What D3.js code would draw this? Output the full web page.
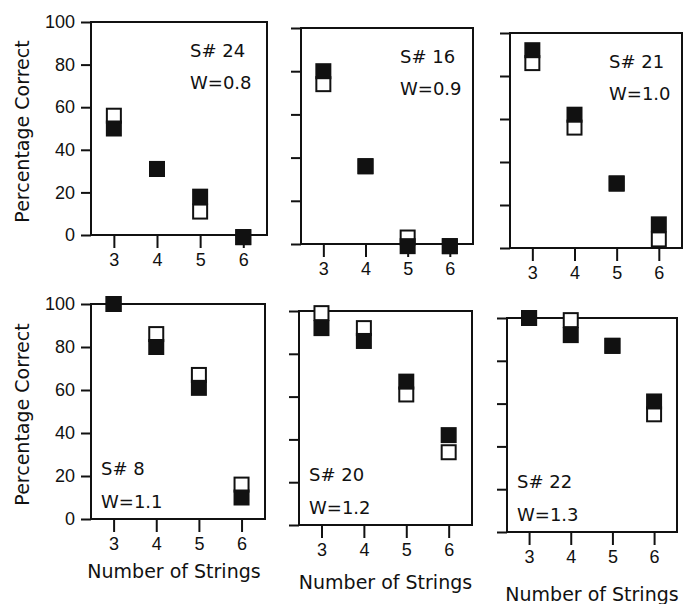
<!DOCTYPE html>
<html>
<head>
<meta charset="utf-8">
<script src="https://cdn.jsdelivr.net/npm/d3@7"></script>
<style>
  html, body { margin: 0; padding: 0; background: #fff; }
  svg { display: block; font-family: "DejaVu Sans", Arial, sans-serif; }
  .frame { fill: none; stroke: #111; stroke-width: 2; }
  .tick-line { stroke: #111; stroke-width: 2; }
  .tick-label { fill: #111; font-size: 18px; }
  .note { fill: #111; font-size: 18px; }
  .axis-title { fill: #111; font-size: 19px; }
</style>
</head>
<body>
<svg id="chart" width="683" height="604"></svg>
<script>
const strings = [3, 4, 5, 6]
const pctTicks = [0, 20, 40, 60, 80, 100]
const subjects = ['S# 24', 'S# 16', 'S# 21', 'S# 8', 'S# 20', 'S# 22']
const weights = ['W=0.8', 'W=0.9', 'W=1.0', 'W=1.1', 'W=1.2', 'W=1.3']

// filled squares and open squares, one row per subject, in order of strings
const filledPct = [
	[50, 31, 18, -1],
	[80, 36, -1, -1],
	[92, 62, 30, 11],
	[100, 80, 61, 10],
	[92, 86, 67, 42],
	[100, 92, 87, 61]
]
const openPct = [
	[56, 31, 11, -1],
	[74, 36, 3, -1],
	[86, 56, 30, 4],
	[100, 86, 67, 16],
	[99, 92, 61, 34],
	[100, 99, 87, 55]
]

// panel boxes (left, top, right, bottom) as laid out on the page
const boxes = [
	{ l: 91, t: 22, r: 267, b: 235 },
	{ l: 301, t: 28, r: 473, b: 244 },
	{ l: 510, t: 33, r: 682, b: 248 },
	{ l: 91, t: 304, r: 265, b: 519 },
	{ l: 299, t: 311, r: 472, b: 525 },
	{ l: 507, t: 318, r: 677, b: 532 }
]

const svg = d3.select('#chart')
const sq = 14

boxes.forEach((box, i) => {

	const row = i < 3 ? 0 : 1
	const col = i % 3

	const x = d3.scaleLinear()
		.domain([2.47, 6.55])
		.range([box.l, box.r])

	const y = d3.scaleLinear()
		.domain([0, 100])
		.range([box.b, box.t])

	const g = svg.append('g').attr('class', 'panel')

	g.append('rect')
		.attr('class', 'frame')
		.attr('x', box.l)
		.attr('y', box.t)
		.attr('width', box.r - box.l)
		.attr('height', box.b - box.t)

	// y ticks, pointing out to the left
	const yAxis = d3.axisLeft(y)
		.tickValues(pctTicks)
		.tickSize(10)
		.tickPadding(6)
		.tickFormat(col === 0 ? d3.format('d') : '')

	const ya = g.append('g')
		.attr('transform', 'translate(' + box.l + ',0)')
		.call(yAxis)
	ya.select('.domain').remove()
	ya.selectAll('line').attr('class', 'tick-line')
	ya.selectAll('text').attr('class', 'tick-label').attr('fill', null)

	// x ticks, pointing down
	const xAxis = d3.axisBottom(x)
		.tickValues(strings)
		.tickSize(13)
		.tickPadding(5)
		.tickFormat(d3.format('d'))

	const xa = g.append('g')
		.attr('transform', 'translate(0,' + box.b + ')')
		.call(xAxis)
	xa.select('.domain').remove()
	xa.selectAll('line').attr('class', 'tick-line')
	xa.selectAll('text').attr('class', 'tick-label').attr('fill', null)

	// open squares first, filled squares drawn on top
	g.selectAll('.open')
		.data(openPct[i])
		.enter()
		.append('rect')
		.attr('class', 'open')
		.attr('x', (d, j) => x(strings[j]) - sq / 2)
		.attr('y', d => y(d) - sq / 2)
		.attr('width', sq)
		.attr('height', sq)
		.attr('fill', '#fff')
		.attr('stroke', '#111')
		.attr('stroke-width', 2)

	g.selectAll('.filled')
		.data(filledPct[i])
		.enter()
		.append('rect')
		.attr('class', 'filled')
		.attr('x', (d, j) => x(strings[j]) - sq / 2 - 1)
		.attr('y', d => y(d) - sq / 2 - 1)
		.attr('width', sq + 2)
		.attr('height', sq + 2)
		.attr('fill', '#111')

	// subject / weight notes
	const nx = row === 0 ? box.l + 99 : box.l + 10
	const ny1 = row === 0 ? box.t + 35 : box.b - 44
	const ny2 = row === 0 ? box.t + 67 : box.b - 11

	g.append('text')
		.attr('class', 'note')
		.attr('x', nx)
		.attr('y', ny1)
		.text(subjects[i])

	g.append('text')
		.attr('class', 'note')
		.attr('x', nx)
		.attr('y', ny2)
		.text(weights[i])

	if (col === 0) {
		g.append('text')
			.attr('class', 'axis-title')
			.attr('transform', 'translate(29,' + ((box.t + box.b) / 2 + 3) + ') rotate(-90)')
			.attr('text-anchor', 'middle')
			.text('Percentage Correct')
	}

	if (row === 1) {
		g.append('text')
			.attr('class', 'axis-title')
			.attr('x', (box.l + box.r) / 2 + (col === 0 ? -4 : 0))
			.attr('y', box.b + 59 + col * 5)
			.attr('text-anchor', 'middle')
			.text('Number of Strings')
	}
})
</script>
</body>
</html>
